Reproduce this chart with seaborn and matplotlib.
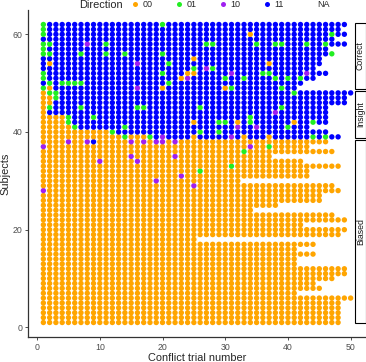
import numpy as np
import pandas as pd
import matplotlib
matplotlib.use("Agg")
import matplotlib.pyplot as plt
import matplotlib.transforms as mtransforms
from matplotlib.lines import Line2D
from matplotlib.patches import Rectangle
import seaborn as sns

# number of conflict trials per subject (subject 1 .. 62)
trial_counts = [48, 48, 48, 48, 48, 50, 41, 45, 44, 47, 49, 49, 41, 41, 44, 41, 44, 25,
                48, 49, 42, 49, 47, 34, 38, 45, 45, 48, 47, 32, 43, 43, 48, 42, 37, 47, 43, 46,
                48, 46, 43, 46, 46, 46, 46, 49, 49, 50,
                41, 42, 44, 46, 44, 45, 45, 47, 46, 49, 47, 49, 48, 49]

group_names = ["Biased", "Insight", "Correct"]
group_sizes = [38, 10, 14]

# insight subjects (39..48): how many leading "00" trials before they switch to "11"
insight_lead_00 = [13, 11, 5, 4, 4, 1, 1, 2, 2, 1]

# single trials that differ from the subject's usual answer: (subject, trial)
resp_00 = [(60, 34), (55, 25), (54, 2), (54, 37), (52, 24), (52, 25), (51, 23), (49, 2),
           (49, 20), (49, 30), (42, 25), (42, 32), (42, 41), (39, 15), (39, 16), (39, 17),
           (39, 25), (39, 33), (39, 37)]
resp_01 = [(62, 1), (62, 20), (61, 1), (60, 1), (60, 47), (58, 1), (58, 2), (58, 11), (58, 27),
           (58, 28), (58, 35), (58, 38), (58, 39), (58, 43), (58, 46), (57, 1), (56, 1), (56, 2),
           (56, 7), (56, 11), (56, 14), (56, 20), (56, 47), (54, 21), (53, 25), (53, 28), (52, 1),
           (52, 20), (52, 36), (52, 37), (51, 1), (51, 30), (51, 33), (51, 38), (51, 40), (51, 42),
           (50, 2), (50, 4), (50, 5), (50, 6), (50, 7), (50, 21), (49, 1), (49, 31), (49, 39),
           (48, 2), (48, 3), (48, 41), (47, 3), (45, 2), (45, 7), (45, 16), (45, 17), (45, 26),
           (45, 39), (43, 5), (43, 9), (43, 34), (42, 5), (42, 29), (42, 30), (42, 34), (42, 44),
           (41, 6), (41, 14), (41, 40), (40, 12), (40, 26), (40, 29), (39, 14), (39, 18), (39, 44),
           (39, 46), (37, 37), (36, 33), (33, 31), (32, 26)]
resp_10 = [(58, 8), (54, 16), (53, 27), (52, 31), (52, 43), (51, 24), (49, 16), (44, 38),
           (41, 32), (41, 35), (39, 20), (39, 31), (38, 5), (38, 8), (38, 15), (38, 17), (38, 19),
           (38, 20), (38, 22), (37, 1), (37, 34), (35, 15), (35, 22), (34, 10), (34, 16),
           (31, 23), (30, 19), (29, 25), (28, 1)]
resp_11 = [(38, 9)]

codes = ["00", "01", "10", "11", "NA"]
colors = ["#FFA500", "#22EE22", "#A020F0", "#0000FF", "#FFFFFF"]

# build long table
groups = []
for name, size in zip(group_names, group_sizes):
    groups += [name] * size
first_insight = group_sizes[0] + 1
rows = []
for subj, n in enumerate(trial_counts, start=1):
    grp = groups[subj - 1]
    for t in range(1, n + 1):
        if grp == "Biased":
            d = "00"
        elif grp == "Correct":
            d = "11"
        else:
            d = "00" if t <= insight_lead_00[subj - first_insight] else "11"
        rows.append((subj, t, d, grp))
df = pd.DataFrame(rows, columns=["subject", "trial", "Direction", "group"])
for code, pts in [("00", resp_00), ("01", resp_01), ("10", resp_10), ("11", resp_11)]:
    for s, t in pts:
        df.loc[(df.subject == s) & (df.trial == t), "Direction"] = code

sns.set_style("ticks")
plt.rcParams["font.family"] = ["Liberation Sans", "DejaVu Sans"]

W, H = 366, 362
fig = plt.figure(figsize=(W / 100, H / 100), dpi=100)
ax = fig.add_axes([28 / W, (H - 337.4) / H, (W - 28) / W, 327.8 / H])

sns.scatterplot(data=df, x="trial", y="subject", hue="Direction", hue_order=codes,
                palette=dict(zip(codes, colors)), s=15, linewidth=0, legend=False, ax=ax)

ax.set_xlim(-1.45, 52.45)
ax.set_ylim(-2.05, 65.05)
ax.set_xticks([0, 10, 20, 30, 40, 50])
ax.set_yticks([0, 20, 40, 60])
sns.despine(ax=ax)
for sp in ["left", "bottom"]:
    ax.spines[sp].set_linewidth(0.9)
    ax.spines[sp].set_color("#333333")
ax.tick_params(length=2.5, width=0.6, color="#333333", labelsize=6.3,
               labelcolor="#4D4D4D", pad=1.5)
ax.set_xlabel("Conflict trial number", fontsize=7.9, labelpad=0.5)
ax.set_ylabel("Subjects", fontsize=7.9, labelpad=1.5)

# facet strips on the right
trans = mtransforms.blended_transform_factory(fig.transFigure, ax.transData)
lo = 1
for name, size in zip(group_names, group_sizes):
    hi = lo + size - 1
    ax.add_patch(Rectangle((355 / W, lo - 0.15), 10.5 / W, hi - lo + 0.45, transform=trans,
                           facecolor="white", edgecolor="black", linewidth=0.8, clip_on=False))
    ax.text(360.3 / W, (lo + hi) / 2 + 0.15, name, transform=trans, rotation=90,
            ha="center", va="center", fontsize=6.3, color="#1A1A1A")
    lo = hi + 1

# legend on top
handles = [Line2D([], [], ls="", marker="o", markersize=3.6, markeredgewidth=0,
                  color=c) for c in colors]
fig.text(79 / W, 1 - 4.5 / H, "Direction", fontsize=7.9, ha="left", va="center")
fig.legend(handles, codes, loc="center left", bbox_to_anchor=(131.8 / W, 1 - 4.5 / H),
           ncol=5, frameon=False, fontsize=6.5, handlelength=0.7, handletextpad=0.5,
           columnspacing=2.55, borderpad=0, borderaxespad=0)

fig.savefig("out.png", dpi=100)
